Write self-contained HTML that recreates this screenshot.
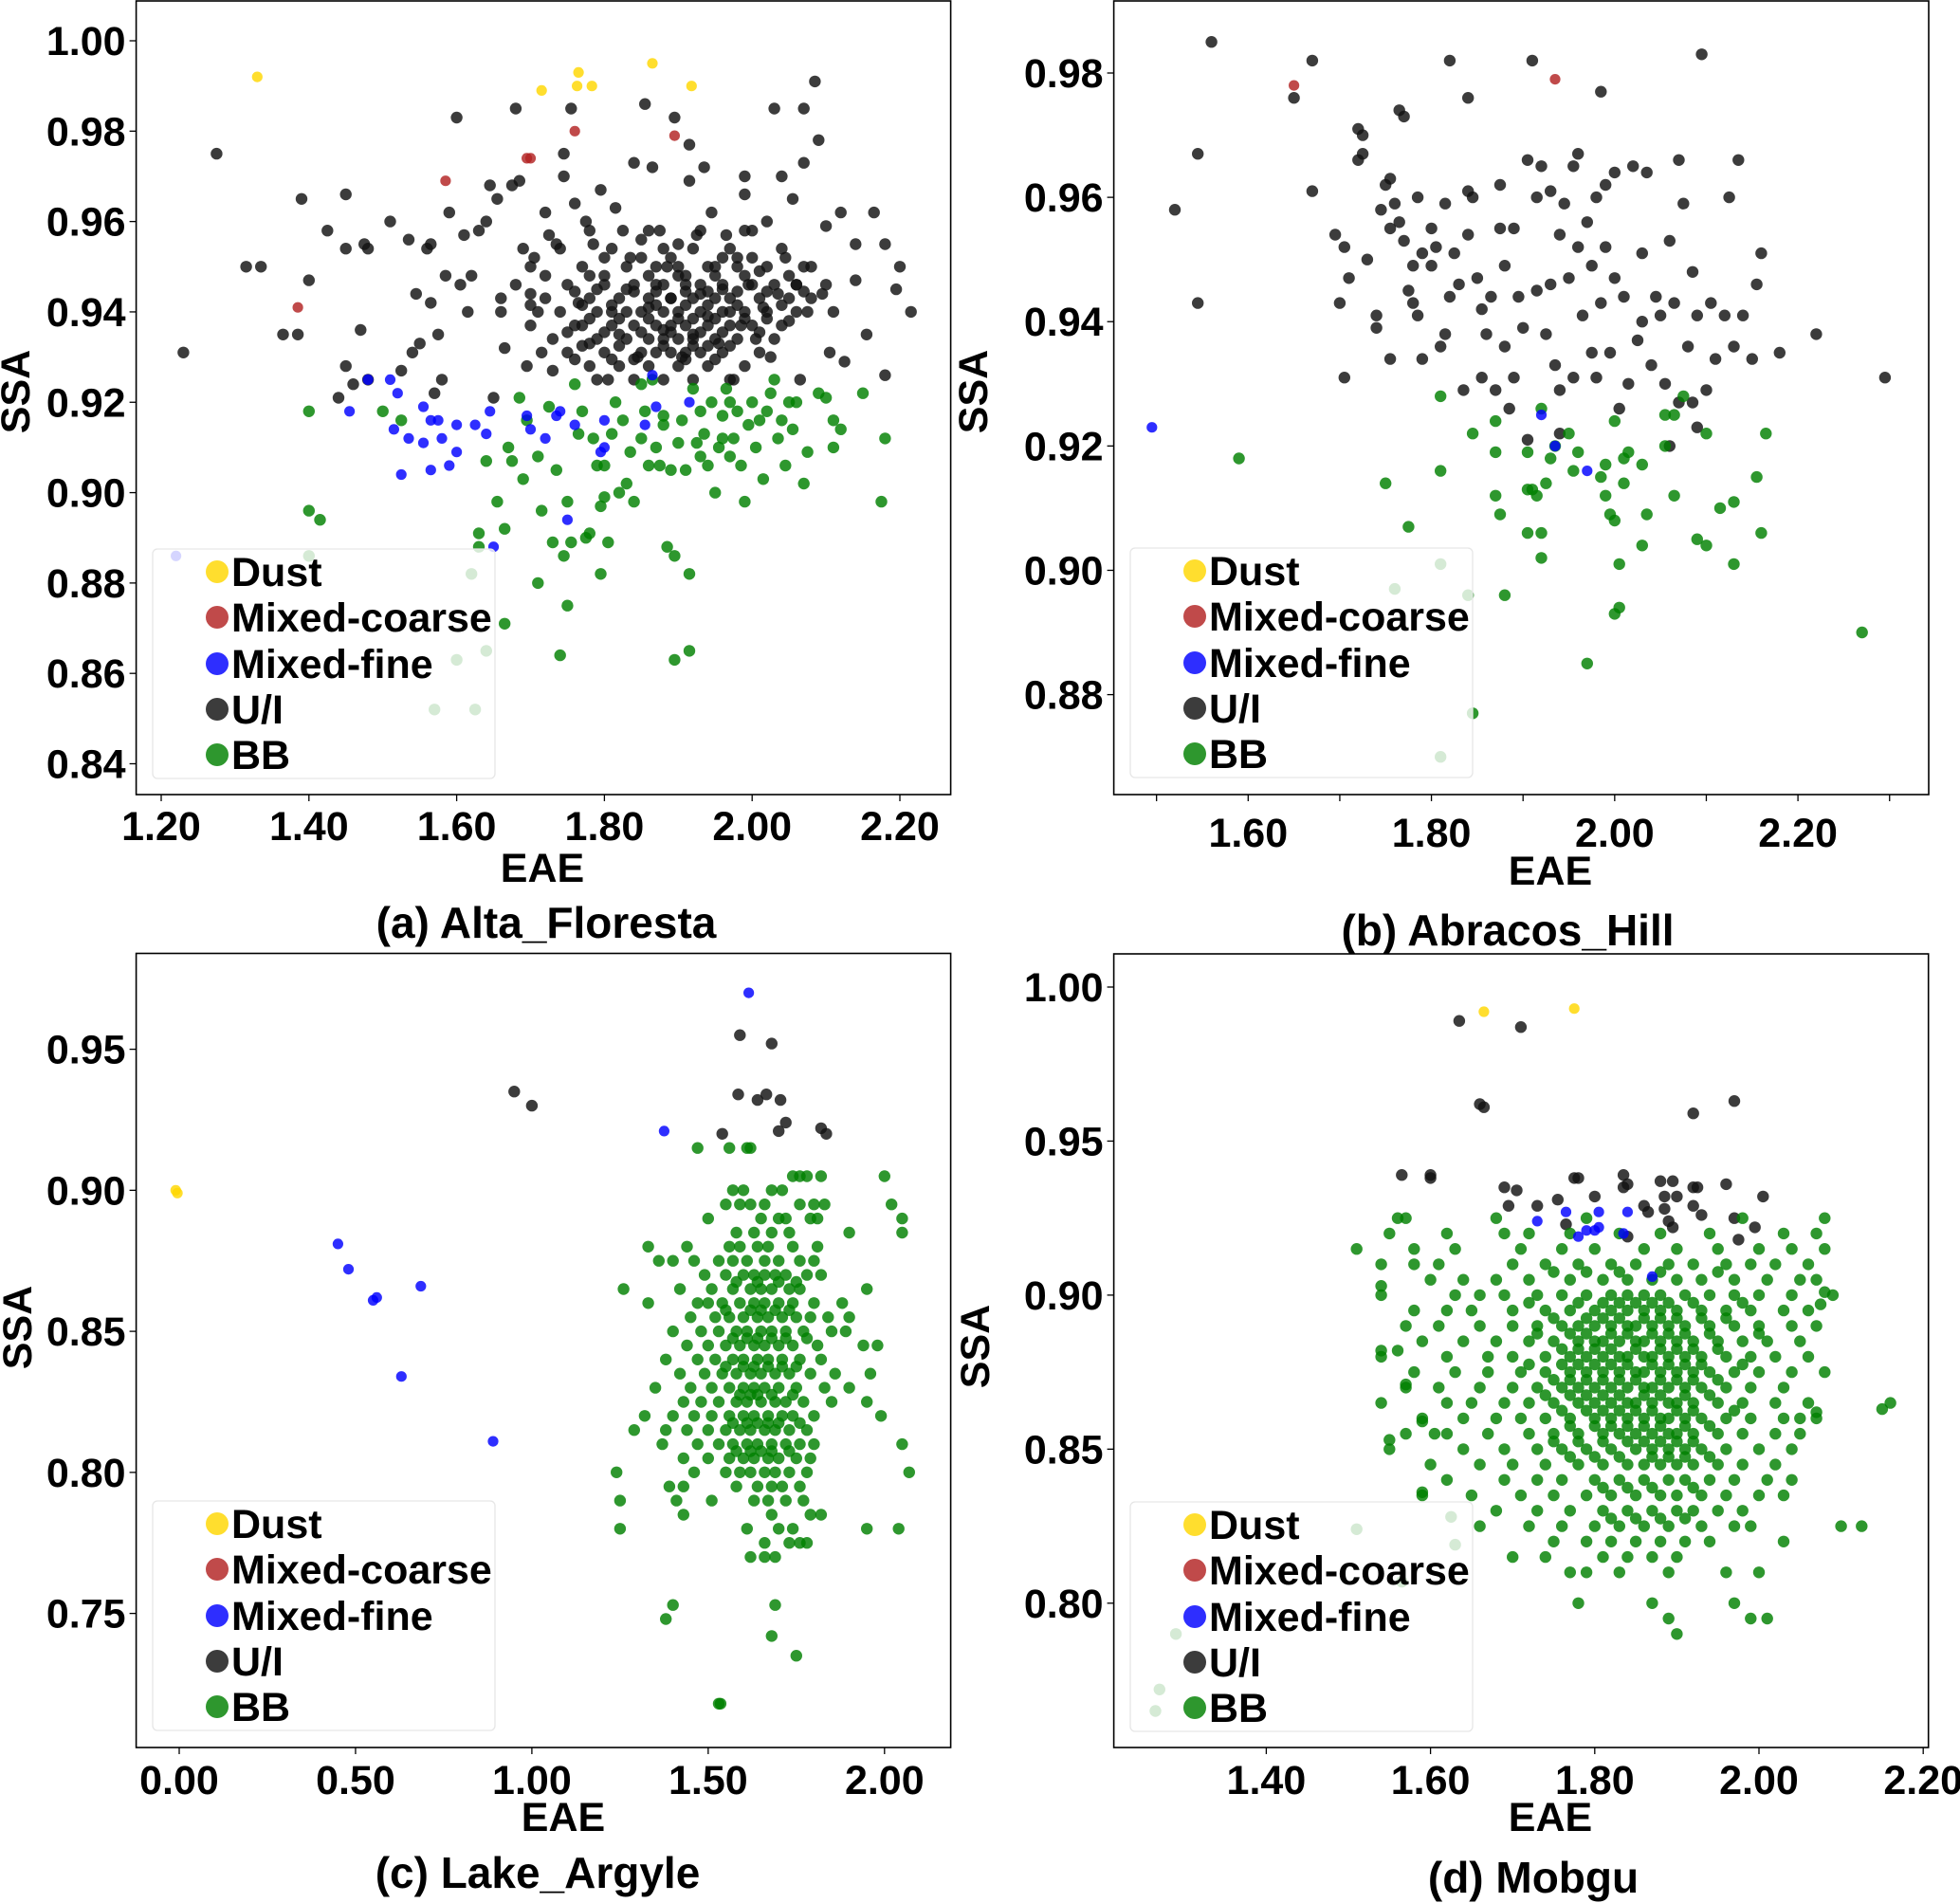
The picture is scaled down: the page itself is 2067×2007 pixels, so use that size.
<!DOCTYPE html>
<html><head><meta charset="utf-8">
<style>
html,body{margin:0;padding:0;background:#fff;}
svg{display:block;font-family:"Liberation Sans",Arial,sans-serif;font-weight:bold;}
</style></head>
<body>
<svg id="fig" width="2067" height="2007" viewBox="0 0 2067 2007" xmlns="http://www.w3.org/2000/svg"></svg>
<script>
// ---------- Panel (a) Alta_Floresta ----------
const aDust=[[1.33,0.992],[1.715,0.989],[1.765,0.993],[1.763,0.990],[1.783,0.990],[1.865,0.995],[1.918,0.990]];
const aCoarse=[[1.385,0.941],[1.585,0.969],[1.695,0.974],[1.70,0.974],[1.76,0.980],[1.895,0.979]];
const aFine=[[1.22,0.886],[1.455,0.918],[1.48,0.925],[1.51,0.925],[1.515,0.914],[1.52,0.922],[1.525,0.904],[1.535,0.912],[1.555,0.919],[1.555,0.911],[1.565,0.905],[1.565,0.916],[1.575,0.916],[1.58,0.912],[1.59,0.906],[1.60,0.915],[1.60,0.909],[1.625,0.915],[1.64,0.913],[1.645,0.918],[1.65,0.888],[1.695,0.917],[1.70,0.914],[1.72,0.912],[1.735,0.917],[1.74,0.918],[1.75,0.894],[1.76,0.915],[1.795,0.909],[1.80,0.910],[1.80,0.916],[1.855,0.915],[1.865,0.926],[1.87,0.919],[1.915,0.920]];
const aUI=[[1.23,0.931],[1.275,0.975],[1.315,0.950],[1.335,0.950],[1.365,0.935],[1.385,0.935],[1.39,0.965],[1.40,0.947],[1.425,0.958],[1.45,0.966],[1.45,0.954],[1.45,0.928],[1.46,0.924],[1.475,0.955],[1.48,0.954],[1.47,0.936],[1.48,0.925],[1.44,0.921],[1.51,0.960],[1.525,0.927],[1.535,0.956],[1.54,0.931],[1.545,0.944],[1.55,0.933],[1.56,0.954],[1.565,0.955],[1.565,0.942],[1.57,0.922],[1.575,0.935],[1.58,0.925],[1.585,0.948],[1.59,0.962],[1.60,0.983],[1.605,0.946],[1.61,0.957],[1.615,0.940],[1.62,0.948],[1.63,0.958],[1.64,0.960],[1.645,0.968],[1.65,0.921],[1.655,0.965],[1.66,0.943],[1.665,0.932],[1.675,0.968],[1.68,0.985],[1.685,0.969],[1.69,0.954],[1.695,0.928],[1.70,0.944],[1.705,0.952],[1.71,0.940],[1.715,0.931],[1.72,0.962],[1.725,0.957],[1.73,0.927],[1.735,0.955],[1.745,0.975],[1.745,0.970],[1.755,0.985],[1.76,0.964],[1.765,0.942],[1.77,0.937],[1.775,0.960],[1.78,0.933],[1.785,0.955],[1.79,0.945],[1.795,0.967],[1.80,0.948],[1.805,0.925],[1.81,0.940],[1.815,0.963],[1.82,0.935],[1.825,0.958],[1.83,0.945],[1.835,0.952],[1.84,0.973],[1.845,0.930],[1.85,0.956],[1.855,0.986],[1.86,0.941],[1.865,0.972],[1.87,0.946],[1.875,0.958],[1.88,0.936],[1.885,0.950],[1.89,0.943],[1.895,0.983],[1.90,0.955],[1.905,0.930],[1.91,0.948],[1.915,0.969],[1.915,0.977],[1.92,0.935],[1.925,0.957],[1.93,0.944],[1.935,0.972],[1.94,0.939],[1.945,0.962],[1.95,0.950],[1.955,0.933],[1.96,0.945],[1.965,0.957],[1.97,0.940],[1.975,0.925],[1.98,0.952],[1.985,0.937],[1.99,0.970],[1.99,0.966],[1.995,0.946],[2.00,0.958],[2.005,0.934],[2.01,0.949],[2.015,0.941],[2.02,0.960],[2.025,0.930],[2.03,0.985],[2.035,0.944],[2.04,0.970],[2.045,0.952],[2.05,0.938],[2.055,0.965],[2.06,0.946],[2.065,0.925],[2.07,0.985],[2.07,0.973],[2.075,0.940],[2.08,0.950],[2.085,0.991],[2.09,0.978],[2.095,0.944],[2.10,0.959],[2.105,0.931],[2.11,0.940],[2.12,0.962],[2.125,0.929],[2.14,0.955],[2.14,0.947],[2.155,0.935],[2.165,0.962],[2.18,0.955],[2.18,0.926],[2.195,0.945],[2.20,0.950],[2.215,0.940]];
const aUICore=[[0.958,1.78,1.86,1.93,1.99],[0.954,1.74,1.81,1.88,1.92,1.97,2.04],[0.950,1.70,1.77,1.83,1.87,1.90,1.94,1.98,2.02,2.07],[0.946,1.68,1.75,1.80,1.84,1.88,1.91,1.93,1.96,2.00,2.03,2.06,2.10],[0.943,1.72,1.78,1.82,1.86,1.89,1.92,1.95,1.97,2.01,2.05,2.08],[0.940,1.66,1.74,1.79,1.83,1.85,1.88,1.90,1.93,1.96,1.99,2.02,2.06],[0.937,1.70,1.76,1.81,1.84,1.87,1.89,1.91,1.94,1.97,2.00,2.04],[0.934,1.73,1.79,1.83,1.86,1.88,1.90,1.92,1.95,1.98,2.03],[0.931,1.75,1.80,1.85,1.87,1.89,1.91,1.93,1.96,2.01],[0.928,1.78,1.82,1.86,1.90,1.94,1.99],[0.925,1.79,1.84,1.88,1.92,1.97]];
const aUICore2=[[0.952,1.80,1.85,1.89,1.96,2.00],[0.948,1.72,1.78,1.86,1.90,1.95,1.99,2.05],[0.9445,1.76,1.84,1.87,1.91,1.94,1.98,2.02,2.07],[0.9415,1.70,1.77,1.81,1.87,1.91,1.94,1.98,2.04],[0.9385,1.78,1.82,1.86,1.90,1.92,1.95,1.99,2.02],[0.9355,1.75,1.80,1.85,1.89,1.93,1.96,2.01],[0.9325,1.77,1.82,1.88,1.92,1.94,1.97],[0.9295,1.76,1.81,1.84,1.91,1.95]];
const aBB=[[1.40,0.918],[1.40,0.896],[1.415,0.894],[1.40,0.886],[1.50,0.918],[1.525,0.916],[1.62,0.882],[1.625,0.852],[1.63,0.891],[1.63,0.888],[1.60,0.863],[1.64,0.865],[1.64,0.907],[1.655,0.898],[1.665,0.892],[1.665,0.871],[1.57,0.852],[1.67,0.910],[1.675,0.907],[1.685,0.921],[1.69,0.903],[1.695,0.916],[1.71,0.880],[1.71,0.908],[1.715,0.896],[1.725,0.919],[1.73,0.889],[1.735,0.905],[1.74,0.864],[1.745,0.886],[1.75,0.875],[1.75,0.898],[1.755,0.889],[1.76,0.924],[1.765,0.913],[1.77,0.918],[1.775,0.890],[1.78,0.891],[1.785,0.912],[1.79,0.906],[1.795,0.897],[1.795,0.882],[1.80,0.899],[1.80,0.906],[1.805,0.889],[1.81,0.913],[1.815,0.920],[1.82,0.900],[1.825,0.916],[1.83,0.902],[1.835,0.909],[1.84,0.898],[1.85,0.912],[1.855,0.918],[1.86,0.906],[1.865,0.925],[1.87,0.910],[1.875,0.906],[1.88,0.917],[1.885,0.888],[1.89,0.905],[1.895,0.863],[1.895,0.886],[1.90,0.911],[1.905,0.916],[1.91,0.905],[1.915,0.882],[1.915,0.865],[1.92,0.923],[1.925,0.911],[1.93,0.918],[1.935,0.913],[1.94,0.906],[1.945,0.920],[1.95,0.900],[1.955,0.910],[1.96,0.917],[1.965,0.923],[1.97,0.908],[1.975,0.912],[1.98,0.918],[1.985,0.906],[1.99,0.898],[1.995,0.915],[2.00,0.920],[2.005,0.910],[2.01,0.916],[2.015,0.903],[2.02,0.918],[2.025,0.922],[2.03,0.925],[2.035,0.912],[2.04,0.916],[2.045,0.906],[2.05,0.920],[2.055,0.914],[2.06,0.920],[2.07,0.902],[2.075,0.909],[2.09,0.922],[2.10,0.921],[2.11,0.916],[2.11,0.910],[2.12,0.914],[2.15,0.922],[2.18,0.912],[2.175,0.898],[1.85,0.924],[1.88,0.915],[1.93,0.908],[1.96,0.912],[1.97,0.920]];
const aXTicks=[1.2,1.4,1.6,1.8,2.0,2.2];
const aYTicks=[0.84,0.86,0.88,0.90,0.92,0.94,0.96,0.98,1.00];

// ---------- Panel (b) Abracos_Hill ----------
const bDust=[];
const bCoarse=[[1.65,0.978],[1.935,0.979]];
const bFine=[[1.495,0.923],[1.92,0.925],[1.935,0.920],[1.97,0.916]];
const bUI=[[1.56,0.985],[1.52,0.958],[1.545,0.967],[1.545,0.943],[1.65,0.976],[1.67,0.982],[1.67,0.961],[1.695,0.954],[1.70,0.943],[1.705,0.952],[1.705,0.931],[1.71,0.947],[1.72,0.971],[1.72,0.966],[1.725,0.970],[1.725,0.967],[1.73,0.950],[1.74,0.941],[1.74,0.939],[1.745,0.958],[1.75,0.962],[1.755,0.963],[1.755,0.955],[1.755,0.934],[1.76,0.959],[1.765,0.956],[1.765,0.974],[1.77,0.973],[1.77,0.953],[1.775,0.945],[1.78,0.949],[1.78,0.943],[1.785,0.960],[1.785,0.941],[1.79,0.951],[1.79,0.934],[1.80,0.949],[1.80,0.955],[1.805,0.952],[1.81,0.936],[1.815,0.959],[1.815,0.938],[1.82,0.982],[1.825,0.951],[1.83,0.946],[1.835,0.929],[1.84,0.976],[1.84,0.961],[1.84,0.954],[1.845,0.960],[1.85,0.947],[1.855,0.942],[1.855,0.931],[1.86,0.938],[1.865,0.944],[1.87,0.929],[1.875,0.962],[1.875,0.955],[1.88,0.936],[1.885,0.926],[1.89,0.955],[1.89,0.931],[1.895,0.944],[1.90,0.939],[1.905,0.966],[1.905,0.921],[1.91,0.982],[1.915,0.960],[1.915,0.945],[1.92,0.965],[1.925,0.938],[1.93,0.961],[1.935,0.933],[1.94,0.954],[1.94,0.922],[1.945,0.959],[1.95,0.947],[1.955,0.965],[1.955,0.931],[1.96,0.967],[1.965,0.941],[1.97,0.956],[1.975,0.949],[1.975,0.935],[1.98,0.960],[1.985,0.977],[1.985,0.943],[1.99,0.962],[1.995,0.935],[2.00,0.964],[2.00,0.947],[2.005,0.926],[2.01,0.944],[2.015,0.930],[2.02,0.965],[2.025,0.937],[2.03,0.951],[2.035,0.964],[2.04,0.933],[2.045,0.944],[2.05,0.941],[2.055,0.930],[2.06,0.953],[2.065,0.943],[2.07,0.927],[2.07,0.966],[2.075,0.959],[2.08,0.936],[2.085,0.948],[2.09,0.941],[2.095,0.983],[2.10,0.929],[2.105,0.943],[2.11,0.934],[2.12,0.941],[2.125,0.960],[2.13,0.936],[2.135,0.966],[2.14,0.941],[2.15,0.934],[2.155,0.946],[2.16,0.951],[2.18,0.935],[2.22,0.938],[2.295,0.931],[1.94,0.929],[1.98,0.931],[2.06,0.920],[1.96,0.952],[1.88,0.949],[1.82,0.944],[1.99,0.952],[2.03,0.940],[1.93,0.946],[2.09,0.923],[2.085,0.927]];
const bUICore=[];
const bBB=[[1.59,0.918],[1.75,0.914],[1.775,0.907],[1.76,0.897],[1.81,0.916],[1.81,0.928],[1.81,0.901],[1.81,0.870],[1.84,0.896],[1.845,0.922],[1.845,0.877],[1.87,0.924],[1.87,0.919],[1.87,0.912],[1.875,0.909],[1.88,0.896],[1.905,0.919],[1.905,0.913],[1.905,0.906],[1.91,0.913],[1.915,0.912],[1.92,0.906],[1.92,0.902],[1.92,0.926],[1.925,0.914],[1.93,0.918],[1.935,0.920],[1.95,0.922],[1.955,0.916],[1.96,0.919],[1.97,0.885],[1.985,0.915],[1.99,0.912],[1.99,0.917],[1.995,0.909],[2.0,0.908],[2.0,0.893],[2.005,0.894],[2.005,0.901],[2.0,0.924],[2.01,0.918],[2.01,0.914],[2.015,0.919],[2.03,0.904],[2.03,0.917],[2.035,0.909],[2.055,0.925],[2.055,0.920],[2.065,0.912],[2.065,0.925],[2.075,0.928],[2.09,0.905],[2.10,0.904],[2.10,0.922],[2.115,0.910],[2.13,0.911],[2.13,0.901],[2.155,0.915],[2.16,0.906],[2.165,0.922],[2.27,0.890]];
const bXTicks=[1.6,1.8,2.0,2.2];
const bXMinor=[1.5,1.6,1.7,1.8,1.9,2.0,2.1,2.2,2.3];
const bYTicks=[0.88,0.90,0.92,0.94,0.96,0.98];

// ---------- Panel (c) Lake_Argyle ----------
const cDust=[[-0.01,0.900],[-0.005,0.899]];
const cCoarse=[];
const cFine=[[0.45,0.881],[0.48,0.872],[0.55,0.861],[0.56,0.862],[0.63,0.834],[0.685,0.866],[0.89,0.811],[1.375,0.921],[1.615,0.970]];
const cUI=[[0.95,0.935],[1.0,0.930],[1.54,0.920],[1.59,0.955],[1.585,0.934],[1.64,0.932],[1.665,0.934],[1.68,0.952],[1.70,0.921],[1.705,0.932],[1.72,0.924],[1.82,0.922],[1.835,0.920]];
const cUICore=[];
const cBBRows=[[0.915,1.47,1.56,1.61,1.62],[0.905,1.74,1.76,1.78,1.82,2.00],[0.900,1.57,1.60,1.68,1.71],[0.895,1.55,1.59,1.62,1.66,1.76,1.80,1.83,2.02],[0.890,1.50,1.65,1.70,1.72,1.79,1.81,2.05],[0.885,1.58,1.63,1.68,1.73,1.90,2.05],[0.880,1.33,1.44,1.56,1.59,1.64,1.67,1.74,1.81],[0.875,1.36,1.40,1.46,1.53,1.57,1.61,1.66,1.70,1.76,1.80],[0.870,1.49,1.55,1.60,1.63,1.66,1.69,1.72,1.78,1.82],[0.865,1.26,1.42,1.51,1.57,1.62,1.65,1.68,1.73,1.76,1.95],[0.860,1.33,1.47,1.50,1.54,1.59,1.63,1.66,1.70,1.74,1.80,1.88],[0.855,1.45,1.52,1.56,1.60,1.64,1.67,1.71,1.75,1.79,1.84,1.90],[0.850,1.40,1.48,1.53,1.58,1.61,1.65,1.68,1.72,1.77,1.85,1.89],[0.845,1.44,1.50,1.55,1.59,1.63,1.66,1.70,1.74,1.81,1.94,1.98],[0.840,1.38,1.47,1.52,1.57,1.60,1.64,1.67,1.71,1.76,1.82],[0.835,1.42,1.49,1.54,1.58,1.62,1.65,1.69,1.73,1.79,1.86,1.96],[0.830,1.35,1.45,1.51,1.56,1.60,1.63,1.66,1.70,1.75,1.83,1.90],[0.825,1.43,1.48,1.53,1.58,1.61,1.65,1.69,1.72,1.77,1.85,1.95],[0.820,1.32,1.40,1.46,1.51,1.56,1.60,1.63,1.67,1.71,1.74,1.80,1.99],[0.815,1.29,1.38,1.44,1.50,1.55,1.59,1.62,1.66,1.69,1.73,1.78],[0.810,1.37,1.47,1.53,1.57,1.61,1.64,1.68,1.72,1.76,1.80,2.05],[0.805,1.43,1.50,1.56,1.60,1.63,1.67,1.70,1.75,1.79],[0.800,1.24,1.46,1.55,1.59,1.62,1.66,1.69,1.73,1.78,2.07],[0.795,1.39,1.43,1.58,1.64,1.68,1.71,1.76],[0.790,1.25,1.41,1.51,1.63,1.67,1.72,1.77],[0.785,1.43,1.68,1.79,1.82],[0.780,1.25,1.61,1.70,1.74,1.95,2.04],[0.775,1.66,1.73,1.76,1.78],[0.770,1.62,1.66,1.69],[0.753,1.40,1.69],[0.748,1.38],[0.742,1.68],[0.735,1.75],[0.718,1.53,1.535]];
const cBBCore2=[[0.8675,1.58,1.64,1.70,1.75],[0.8575,1.55,1.62,1.65,1.69,1.73],[0.8475,1.57,1.61,1.64,1.68,1.72,1.78],[0.8375,1.55,1.60,1.63,1.67,1.71,1.75],[0.8275,1.59,1.62,1.64,1.68,1.74],[0.8175,1.57,1.61,1.64,1.67,1.70,1.76],[0.8075,1.58,1.62,1.65,1.68,1.73]];
const cXTicks=[0.0,0.5,1.0,1.5,2.0];
const cYTicks=[0.75,0.80,0.85,0.90,0.95];

// ---------- Panel (d) Mobgu ----------
const dDust=[[1.665,0.992],[1.775,0.993]];
const dCoarse=[];
const dFine=[[1.73,0.924],[1.765,0.927],[1.78,0.919],[1.79,0.921],[1.80,0.921],[1.805,0.927],[1.805,0.922],[1.835,0.920],[1.84,0.927],[1.87,0.906]];
const dUI=[[1.635,0.989],[1.71,0.987],[1.66,0.962],[1.665,0.961],[1.92,0.959],[1.97,0.963],[1.565,0.939],[1.60,0.939],[1.60,0.938],[1.69,0.935],[1.705,0.934],[1.695,0.929],[1.73,0.929],[1.755,0.931],[1.775,0.938],[1.78,0.938],[1.80,0.932],[1.835,0.939],[1.835,0.935],[1.84,0.936],[1.86,0.929],[1.865,0.927],[1.88,0.937],[1.885,0.932],[1.885,0.928],[1.895,0.937],[1.90,0.932],[1.92,0.935],[1.925,0.935],[1.92,0.929],[1.93,0.926],[1.96,0.936],[1.97,0.925],[1.975,0.918],[1.995,0.922],[2.005,0.932],[1.89,0.924],[1.895,0.922],[1.765,0.923],[1.84,0.919]];
const dUICore=[];
const dBBOut=[[1.27,0.772],[1.265,0.765],[1.29,0.790],[1.51,0.824],[1.565,0.807],[1.63,0.819],[1.625,0.828],[2.10,0.825],[2.125,0.825],[2.15,0.863],[2.16,0.865],[1.54,0.903],[1.54,0.882],[1.55,0.853],[1.56,0.882],[1.57,0.871],[1.59,0.859],[1.59,0.836],[2.08,0.901],[2.075,0.897],[2.07,0.862],[2.05,0.860],[1.605,0.855]];
const dBBRows=[[0.925,1.56,1.57,1.68,1.79,1.98,2.08],[0.920,1.55,1.62,1.69,1.72,1.77,1.83,1.88,1.94,2.03,2.07],[0.915,1.51,1.58,1.63,1.71,1.76,1.80,1.86,1.90,1.95,2.00,2.04,2.08],[0.910,1.54,1.58,1.61,1.70,1.74,1.78,1.82,1.85,1.89,1.92,1.96,1.99,2.02,2.06],[0.905,1.60,1.64,1.68,1.72,1.77,1.81,1.84,1.87,1.90,1.93,1.97,2.01,2.05,2.07],[0.900,1.54,1.63,1.66,1.69,1.73,1.76,1.79,1.82,1.84,1.86,1.88,1.91,1.94,1.97,2.00,2.04,2.09],[0.895,1.58,1.62,1.65,1.70,1.74,1.77,1.80,1.82,1.84,1.86,1.88,1.90,1.93,1.96,1.99,2.03,2.06],[0.890,1.57,1.61,1.66,1.70,1.73,1.76,1.78,1.80,1.82,1.84,1.85,1.87,1.89,1.91,1.94,1.97,2.00,2.04,2.07],[0.885,1.59,1.64,1.68,1.72,1.75,1.78,1.80,1.81,1.83,1.85,1.86,1.88,1.90,1.92,1.95,1.98,2.01,2.05],[0.880,1.54,1.62,1.67,1.70,1.74,1.77,1.79,1.81,1.83,1.84,1.86,1.87,1.89,1.91,1.93,1.96,1.99,2.02,2.06],[0.875,1.58,1.63,1.67,1.71,1.74,1.77,1.79,1.81,1.83,1.85,1.86,1.88,1.90,1.92,1.94,1.97,2.00,2.04,2.08],[0.870,1.57,1.61,1.66,1.70,1.73,1.76,1.78,1.80,1.82,1.84,1.86,1.87,1.89,1.91,1.93,1.96,1.99,2.03],[0.865,1.54,1.62,1.65,1.69,1.72,1.75,1.78,1.80,1.82,1.84,1.85,1.87,1.89,1.90,1.92,1.95,1.98,2.02,2.06],[0.860,1.59,1.64,1.68,1.71,1.74,1.77,1.80,1.82,1.84,1.86,1.88,1.89,1.91,1.93,1.96,1.99,2.03,2.07],[0.855,1.57,1.62,1.67,1.72,1.75,1.78,1.81,1.83,1.85,1.87,1.89,1.90,1.92,1.95,1.98,2.02,2.05],[0.850,1.55,1.64,1.69,1.73,1.76,1.79,1.82,1.85,1.87,1.89,1.91,1.93,1.96,2.00,2.04],[0.845,1.60,1.66,1.70,1.74,1.78,1.81,1.84,1.86,1.88,1.90,1.92,1.95,1.98,2.02],[0.840,1.62,1.69,1.73,1.76,1.80,1.83,1.86,1.89,1.91,1.94,1.97,2.01,2.04],[0.835,1.59,1.65,1.71,1.75,1.79,1.82,1.85,1.88,1.90,1.93,1.96,2.00,2.03],[0.830,1.68,1.73,1.77,1.81,1.84,1.87,1.90,1.92,1.95,1.98],[0.825,1.66,1.72,1.76,1.80,1.83,1.86,1.89,1.93,1.97,1.99],[0.820,1.75,1.79,1.82,1.85,1.88,1.91,1.94,2.03],[0.815,1.70,1.74,1.81,1.84,1.87,1.90],[0.810,1.77,1.79,1.83,1.89,1.96,2.00],[0.800,1.78,1.87,1.97],[0.795,1.89,1.99,2.01],[0.790,1.90]];
const dBBCore2=[[0.9075,1.75,1.79,1.83,1.88,1.95],[0.8975,1.72,1.78,1.81,1.83,1.85,1.87,1.89,1.92,1.98],[0.8925,1.75,1.79,1.81,1.83,1.86,1.88,1.90,1.93,1.96],[0.8875,1.73,1.77,1.79,1.82,1.84,1.87,1.89,1.91,1.94,2.00],[0.8825,1.76,1.78,1.80,1.82,1.85,1.88,1.90,1.92,1.95],[0.8775,1.72,1.76,1.78,1.80,1.82,1.84,1.87,1.89,1.91,1.93,1.98],[0.8725,1.75,1.77,1.79,1.81,1.83,1.85,1.88,1.90,1.92,1.95],[0.8675,1.74,1.77,1.79,1.81,1.83,1.86,1.88,1.91,1.94],[0.8625,1.76,1.79,1.81,1.83,1.85,1.87,1.90,1.92,1.97],[0.8575,1.77,1.80,1.82,1.84,1.86,1.88,1.91,1.94],[0.8525,1.75,1.78,1.81,1.84,1.86,1.88,1.90,1.92],[0.8475,1.77,1.80,1.83,1.87,1.89,1.91,1.94],[0.8375,1.81,1.84,1.87,1.92],[0.8275,1.82,1.85,1.88,1.91]];
const dXTicks=[1.4,1.6,1.8,2.0,2.2];
const dYTicks=[0.80,0.85,0.90,0.95,1.00];

const legendLabels=["Dust","Mixed-coarse","Mixed-fine","U/I","BB"];
</script>
<script>
const NS="http://www.w3.org/2000/svg";
const svg=document.getElementById('fig');
const COL={dust:"#FFD700",coarse:"#B22222",fine:"#0000FF",ui:"#111111",bb:"#008000"};
const LCOL=[COL.dust,COL.coarse,COL.fine,COL.ui,COL.bb];
function mk(tag,attrs,parent){const e=document.createElementNS(NS,tag);for(const k in attrs)e.setAttribute(k,attrs[k]);(parent||svg).appendChild(e);return e;}
function rowsToPts(rows){const out=[];rows.forEach(r=>{for(let i=1;i<r.length;i++)out.push([r[i],r[0]]);});return out;}

function panel(cfg){
  const g=mk('g',{});
  
  
  const sx=v=>cfg.px0+(v-cfg.vx0)*(cfg.px1-cfg.px0)/(cfg.vx1-cfg.vx0);
  const sy=v=>cfg.py0+(v-cfg.vy0)*(cfg.py1-cfg.py0)/(cfg.vy1-cfg.vy0);
  const clip='clip-'+cfg.id;
  const cp=mk('clipPath',{id:clip},g);
  mk('rect',{x:cfg.L,y:cfg.T,width:cfg.R-cfg.L,height:cfg.B-cfg.T},cp);
  const pg=mk('g',{'clip-path':'url(#'+clip+')'},g);
  
  
  const series=[["ui",cfg.ui,6.2],["bb",cfg.bb,6.2],["fine",cfg.fine,5.6],["coarse",cfg.coarse,5.6],["dust",cfg.dust,5.6]];
  series.forEach(([k,pts,r])=>{
    const sg=mk('g',{fill:COL[k],'fill-opacity':0.82},pg);
    
    
    pts.forEach(p=>{
      const c=mk('circle',{cx:sx(p[0]).toFixed(1),cy:sy(p[1]).toFixed(1),r:r},sg);
      
      
    });
  });
  const fr=mk('rect',{x:cfg.L,y:cfg.T,width:cfg.R-cfg.L,height:cfg.B-cfg.T,fill:'none',stroke:'#000','stroke-width':1.6},g);
  
  
  (cfg.xminor||cfg.xticks).forEach(v=>{
    const l=mk('line',{x1:sx(v),x2:sx(v),y1:cfg.B,y2:cfg.B+7,stroke:'#000','stroke-width':1.3},g);
    
    
  });
  cfg.xticks.forEach(v=>{
    const t=mk('text',{x:sx(v),y:cfg.xlabY,'text-anchor':'middle','font-size':43},g);
    t.textContent=v.toFixed(2);
    
    
  });
  cfg.yticks.forEach(v=>{
    const l=mk('line',{x1:cfg.L-7,x2:cfg.L,y1:sy(v),y2:sy(v),stroke:'#000','stroke-width':1.3},g);
    
    
    const t=mk('text',{x:cfg.L-11,y:sy(v)+15,'text-anchor':'end','font-size':43},g);
    t.textContent=v.toFixed(2);
    
    
  });
  const xt=mk('text',{x:cfg.xtX,y:cfg.xtY,'text-anchor':'middle','font-size':43},g);
  xt.textContent='EAE';
  
  
  const yt=mk('text',{x:0,y:0,'text-anchor':'middle','font-size':43,transform:`translate(${cfg.ytX},${cfg.ytY}) rotate(-90)`},g);
  yt.textContent='SSA';
  
  
  const ti=mk('text',{x:cfg.tiX,y:cfg.tiY,'text-anchor':'middle','font-size':46},g);
  ti.textContent=cfg.title;
  
  
  const lg=mk('g',{},g);
  
  
  mk('rect',{x:cfg.lgX,y:cfg.lgY,width:361,height:242,rx:5,fill:'#fff','fill-opacity':0.8,stroke:'#e6e6e6','stroke-width':1.3},lg);
  const offs=[24,72,121,169,217];
  legendLabels.forEach((lab,i)=>{
    const e=mk('g',{},lg);
    
    
    mk('circle',{cx:cfg.lgX+68,cy:cfg.lgY+offs[i],r:12,fill:LCOL[i],'fill-opacity':0.82},e);
    const t=mk('text',{x:cfg.lgX+83,y:cfg.lgY+offs[i]+15,'font-size':43},e);
    t.textContent=lab;
  });
}

panel({id:'a',name:'panel-alta-floresta',title:'(a) Alta_Floresta',L:143.6,R:1002.6,T:1,B:838,
  px0:170,vx0:1.2,px1:949,vx1:2.2,py0:43,vy0:1.0,py1:805.5,vy1:0.84,
  xticks:aXTicks,yticks:aYTicks,xlabY:886,xtX:572,xtY:930,ytX:31,ytY:413,tiX:576,tiY:989,lgX:161,lgY:579,
  dust:aDust,coarse:aCoarse,fine:aFine,ui:aUI.concat(rowsToPts(aUICore),rowsToPts(aUICore2)),bb:aBB});
panel({id:'b',name:'panel-abracos-hill',title:'(b) Abracos_Hill',L:1174.6,R:2034,T:1,B:838,
  px0:1316.3,vx0:1.6,px1:1896.1,vx1:2.2,py0:77,vy0:0.98,py1:732.6,vy1:0.88,
  xticks:bXTicks,xminor:bXMinor,yticks:bYTicks,xlabY:893,xtX:1635,xtY:933,ytX:1041,ytY:413,tiX:1590,tiY:997,lgX:1192,lgY:578,
  dust:bDust,coarse:bCoarse,fine:bFine,ui:bUI.concat(rowsToPts(bUICore)),bb:bBB});
panel({id:'c',name:'panel-lake-argyle',title:'(c) Lake_Argyle',L:143.6,R:1002.6,T:1005.5,B:1843,
  px0:189,vx0:0.0,px1:932.8,vx1:2.0,py0:1106.6,vy0:0.95,py1:1701.6,vy1:0.75,
  xticks:cXTicks,yticks:cYTicks,xlabY:1892,xtX:594,xtY:1931,ytX:33,ytY:1400,tiX:567,tiY:1991,lgX:161,lgY:1583,
  dust:cDust,coarse:cCoarse,fine:cFine,ui:cUI.concat(rowsToPts(cUICore)),bb:rowsToPts(cBBRows).concat(rowsToPts(cBBCore2))});
panel({id:'d',name:'panel-mobgu',title:'(d) Mobgu',L:1174.6,R:2033.7,T:1006,B:1843,
  px0:1335.4,vx0:1.4,px1:1855,vx1:2.0,py0:1041,vy0:1.0,py1:1690.8,vy1:0.80,
  xticks:dXTicks,yticks:dYTicks,xlabY:1892,xtX:1635,xtY:1931,ytX:1043,ytY:1420,tiX:1617,tiY:1996,lgX:1192,lgY:1584,
  dust:dDust,coarse:dCoarse,fine:dFine,ui:dUI.concat(rowsToPts(dUICore)),bb:dBBOut.concat(rowsToPts(dBBRows),rowsToPts(dBBCore2))});
</script>
</body></html>
